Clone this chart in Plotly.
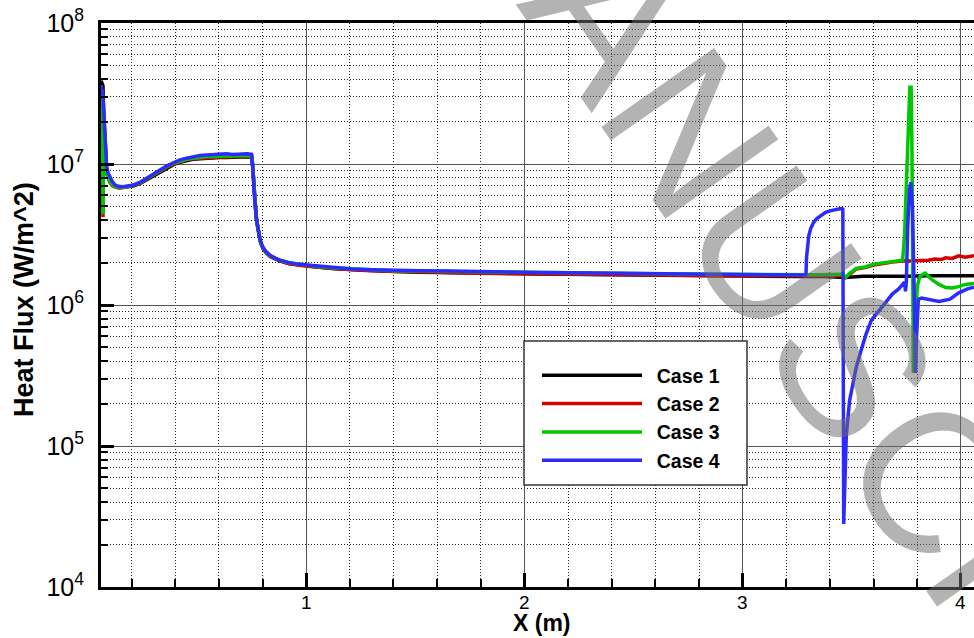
import plotly.graph_objects as go

# ---------------- data ----------------
# shared stations along the wall for the leading part of the profile (m)
x_front = [
    0.060, 0.062, 0.064, 0.066, 0.069, 0.072, 0.076, 0.080, 0.086, 0.093,
    0.101, 0.112, 0.124, 0.140, 0.160, 0.183, 0.210, 0.238, 0.268, 0.298,
    0.330, 0.362, 0.392, 0.422, 0.452, 0.481, 0.514, 0.546, 0.575, 0.605,
    0.635, 0.665, 0.700, 0.730, 0.750, 0.754, 0.757, 0.762, 0.766, 0.771,
    0.776, 0.782, 0.789, 0.796, 0.803, 0.815, 0.835, 0.858, 0.881, 0.920,
    0.959, 1.005, 1.06, 1.13, 1.21, 1.30, 1.40, 1.52, 1.65, 1.78,
    1.92, 2.06, 2.20, 2.35, 2.50, 2.65, 2.80, 2.95, 3.10, 3.25,
]

# heat flux (W/m^2) on the leading part
q1_front = [
    3.9e7, 3.85e7, 3.8e7, 3.75e7, 3.6e7, 2.4e7, 1.7e7, 1.2e7, 9.0e6, 8.0e6,
    7.5e6, 7.1e6, 6.9e6, 6.8e6, 6.8e6, 6.85e6, 7.0e6, 7.25e6, 7.7e6, 8.2e6,
    8.8e6, 9.4e6, 9.9e6, 1.03e7, 1.06e7, 1.08e7, 1.09e7, 1.10e7, 1.10e7, 1.11e7,
    1.11e7, 1.12e7, 1.12e7, 1.12e7, 1.12e7, 1.0e7, 8.4e6, 6.0e6, 4.9e6, 4.2e6,
    3.7e6, 3.25e6, 2.85e6, 2.65e6, 2.5e6, 2.36e6, 2.21e6, 2.12e6, 2.05e6, 1.97e6,
    1.93e6, 1.89e6, 1.85e6, 1.81e6, 1.78e6, 1.75e6, 1.73e6, 1.71e6, 1.69e6, 1.68e6,
    1.67e6, 1.66e6, 1.65e6, 1.64e6, 1.63e6, 1.62e6, 1.61e6, 1.60e6, 1.60e6, 1.59e6,
]
q2_front = [
    3.6e7, 3.4e7, 3.1e7, 2.7e7, 4.2e6, 1.75e7, 1.3e7, 1.02e7, 8.5e6, 7.8e6,
    7.4e6, 7.0e6, 6.85e6, 6.75e6, 6.8e6, 6.9e6, 7.05e6, 7.3e6, 7.8e6, 8.3e6,
    8.9e6, 9.5e6, 1.0e7, 1.04e7, 1.07e7, 1.09e7, 1.10e7, 1.11e7, 1.11e7, 1.12e7,
    1.12e7, 1.13e7, 1.13e7, 1.13e7, 1.13e7, 1.01e7, 8.5e6, 6.1e6, 4.95e6, 4.25e6,
    3.72e6, 3.27e6, 2.87e6, 2.66e6, 2.52e6, 2.37e6, 2.22e6, 2.13e6, 2.06e6, 1.96e6,
    1.92e6, 1.88e6, 1.85e6, 1.81e6, 1.78e6, 1.75e6, 1.73e6, 1.71e6, 1.70e6, 1.68e6,
    1.67e6, 1.66e6, 1.65e6, 1.64e6, 1.63e6, 1.63e6, 1.62e6, 1.61e6, 1.61e6, 1.61e6,
]
q3_front = [
    3.6e7, 3.3e7, 3.0e7, 2.7e7, 4.4e6, 2.1e7, 1.7e7, 1.25e7, 8.6e6, 7.9e6,
    7.5e6, 7.1e6, 6.9e6, 6.85e6, 6.85e6, 6.9e6, 7.1e6, 7.35e6, 7.85e6, 8.4e6,
    9.0e6, 9.6e6, 1.01e7, 1.05e7, 1.08e7, 1.10e7, 1.12e7, 1.13e7, 1.13e7, 1.14e7,
    1.14e7, 1.14e7, 1.15e7, 1.15e7, 1.15e7, 1.03e7, 8.6e6, 6.1e6, 4.95e6, 4.25e6,
    3.75e6, 3.3e6, 2.9e6, 2.68e6, 2.53e6, 2.38e6, 2.23e6, 2.14e6, 2.07e6, 1.99e6,
    1.95e6, 1.91e6, 1.87e6, 1.83e6, 1.80e6, 1.77e6, 1.75e6, 1.74e6, 1.73e6, 1.71e6,
    1.70e6, 1.69e6, 1.68e6, 1.67e6, 1.66e6, 1.66e6, 1.65e6, 1.65e6, 1.64e6, 1.64e6,
]
q4_front = [
    3.6e7, 3.5e7, 3.4e7, 3.3e7, 3.1e7, 2.5e7, 1.9e7, 1.35e7, 9.5e6, 8.6e6,
    8.1e6, 7.5e6, 7.1e6, 6.95e6, 6.9e6, 6.95e6, 7.1e6, 7.4e6, 7.9e6, 8.5e6,
    9.1e6, 9.7e6, 1.02e7, 1.07e7, 1.10e7, 1.13e7, 1.15e7, 1.16e7, 1.17e7, 1.17e7,
    1.18e7, 1.17e7, 1.18e7, 1.18e7, 1.17e7, 1.05e7, 8.8e6, 6.2e6, 5.0e6, 4.3e6,
    3.8e6, 3.3e6, 2.9e6, 2.7e6, 2.55e6, 2.4e6, 2.25e6, 2.15e6, 2.08e6, 2.0e6,
    1.95e6, 1.92e6, 1.88e6, 1.84e6, 1.80e6, 1.78e6, 1.76e6, 1.75e6, 1.74e6, 1.72e6,
    1.71e6, 1.70e6, 1.69e6, 1.68e6, 1.67e6, 1.66e6, 1.65e6, 1.65e6, 1.64e6, 1.63e6,
]

# downstream part, different for each case
x1_tail = [3.35, 3.45, 3.47, 3.55, 3.65, 3.75, 3.85, 3.95, 4.06]
q1_tail = [1.60e6, 1.59e6, 1.57e6, 1.60e6, 1.59e6, 1.60e6, 1.61e6, 1.60e6, 1.61e6]

x2_tail = [3.35, 3.45, 3.462, 3.47, 3.49, 3.52, 3.56, 3.60, 3.63, 3.67, 3.70,
           3.735, 3.77, 3.81, 3.85, 3.88, 3.91, 3.93, 3.96, 3.99, 4.02, 4.06]
q2_tail = [1.62e6, 1.62e6, 1.61e6, 1.56e6, 1.66e6, 1.80e6, 1.84e6, 1.92e6, 1.95e6,
           1.98e6, 2.03e6, 2.06e6, 2.05e6, 2.07e6, 2.08e6, 2.12e6, 2.10e6, 2.16e6,
           2.14e6, 2.23e6, 2.18e6, 2.24e6]

x3_tail = [3.35, 3.45, 3.462, 3.47, 3.49, 3.52, 3.56, 3.60, 3.63, 3.67, 3.70,
           3.733, 3.742, 3.750, 3.758, 3.766, 3.772, 3.776, 3.782, 3.790, 3.800,
           3.812, 3.836, 3.87, 3.90, 3.93, 3.96, 3.99, 4.02, 4.06]
q3_tail = [1.64e6, 1.65e6, 1.63e6, 1.56e6, 1.68e6, 1.82e6, 1.86e6, 1.95e6, 1.98e6,
           2.02e6, 2.05e6, 2.08e6, 3.2e6, 7.5e6, 1.6e7, 3.5e7, 3.5e7, 1.2e7, 3.3e5,
           7.0e5, 1.35e6, 1.6e6, 1.68e6, 1.5e6, 1.4e6, 1.33e6, 1.32e6, 1.35e6,
           1.40e6, 1.42e6]

x4_tail = [3.29, 3.293, 3.297, 3.303, 3.312, 3.325, 3.34, 3.36, 3.38, 3.40, 3.42,
           3.44, 3.456, 3.459, 3.463, 3.468, 3.475, 3.49, 3.52, 3.545, 3.565, 3.59,
           3.626, 3.66, 3.687, 3.715, 3.733, 3.742, 3.746, 3.750, 3.756, 3.764,
           3.771, 3.778, 3.785, 3.792, 3.797, 3.805, 3.82, 3.855, 3.90, 3.95, 3.99,
           4.03, 4.06]
q4_tail = [1.63e6, 2.2e6, 2.7e6, 3.1e6, 3.5e6, 3.85e6, 4.1e6, 4.35e6, 4.55e6,
           4.65e6, 4.75e6, 4.8e6, 4.85e6, 4.8e6, 2.8e4, 6.0e4, 1.2e5, 2.1e5, 3.6e5,
           4.9e5, 6.2e5, 7.8e5, 9.2e5, 1.08e6, 1.2e6, 1.3e6, 1.4e6, 1.45e6, 1.25e6,
           1.45e6, 3.5e6, 6.5e6, 7.4e6, 5.0e6, 1.5e6, 3.3e5, 6.0e5, 1.1e6, 1.12e6,
           1.10e6, 1.06e6, 1.1e6, 1.22e6, 1.3e6, 1.34e6]

case_names = ["Case 1", "Case 2", "Case 3", "Case 4"]
case_colors = ["#000000", "#d40000", "#00c800", "#2b2bff"]

# labelled stations on the X axis
x_tick_vals = [1, 2, 3, 4]
x_tick_text = ["1", "2", "3", "4"]

series = [
    (x_front + x1_tail, q1_front + q1_tail),
    (x_front + x2_tail, q2_front + q2_tail),
    (x_front + x3_tail, q3_front + q3_tail),
    (x_front + x4_tail, q4_front + q4_tail),
]

# ---------------- figure ----------------
FONT = "Liberation Sans, Arial, sans-serif"

fig = go.Figure()
for (xs, qs), name, col in zip(series, case_names, case_colors):
    fig.add_trace(go.Scatter(
        x=xs, y=qs, mode="lines", name="\u2002" + name,
        line=dict(color=col, width=3.5),
    ))

W, H = 974, 638
ML, MR, MT, MB = 101, 0, 23, 51
PW, PH = W - ML - MR, H - MT - MB


def px_to_paper(px, py):
    return (px - ML) / PW, (H - MB - py) / PH


lx0, ly0 = px_to_paper(524, 485)
lx1, ly1 = px_to_paper(747, 341)
leg_x, leg_y = px_to_paper(537, 356)
wm_x, wm_y = px_to_paper(528, -100)

annotations = [
    dict(text="<b>Heat Flux (W/m^2)</b>", xref="paper", yref="paper",
         x=0, y=0.509, xshift=-77, xanchor="center", yanchor="middle",
         textangle=-90, showarrow=False,
         font=dict(family=FONT, size=27, color="black")),
    dict(text="<b>X (m)</b>", xref="x", yref="paper",
         x=2.081, y=0, yshift=-36, xanchor="center", yanchor="middle",
         showarrow=False, font=dict(family=FONT, size=23, color="black")),
    dict(text="ACCEPTED MANUSCRIPT", xref="paper", yref="paper",
         x=wm_x, y=wm_y, xanchor="center", yanchor="middle",
         textangle=55, showarrow=False,
         font=dict(family=FONT, size=200, color="rgba(110,110,110,0.52)")),
]
# x tick labels sit close under the frame
for xv, xt in zip(x_tick_vals, x_tick_text):
    annotations.append(dict(
        text=xt, xref="x", yref="paper", x=xv, y=0, yshift=-15,
        xanchor="center", yanchor="middle", showarrow=False,
        font=dict(family=FONT, size=19, color="black")))

fig.update_layout(
    width=W, height=H,
    margin=dict(l=ML, r=MR, t=MT, b=MB, autoexpand=False),
    paper_bgcolor="white", plot_bgcolor="white",
    font=dict(family=FONT, color="black"),
    showlegend=True,
    legend=dict(
        x=leg_x, y=leg_y, xanchor="left", yanchor="top",
        bgcolor="rgba(0,0,0,0)", borderwidth=0,
        font=dict(family=FONT, size=19.5, color="black", weight="bold"),
        itemwidth=100, tracegroupgap=0,
    ),
    xaxis=dict(
        range=[0.06, 4.06], tickvals=x_tick_vals, showticklabels=False,
        ticks="inside", ticklen=14, tickwidth=3, tickcolor="black",
        showline=True, linewidth=3, linecolor="black", mirror=True,
        showgrid=True, gridcolor="#555555", gridwidth=1.3, zeroline=False,
        minor=dict(dtick=0.2, tick0=0, ticks="inside", ticklen=8, tickwidth=1.5,
                   tickcolor="black", showgrid=True, gridcolor="#222222",
                   griddash="1px,2px", gridwidth=1),
    ),
    yaxis=dict(
        type="log", range=[4, 8], dtick=1, exponentformat="power",
        ticks="inside", ticklen=13, tickwidth=3, tickcolor="black",
        showline=True, linewidth=3, linecolor="black", mirror=False,
        showgrid=True, gridcolor="#555555", gridwidth=1.3, zeroline=False,
        tickfont=dict(family=FONT, size=20, color="black"),
        ticklabelstandoff=10,
        minor=dict(dtick="D1", ticks="inside", ticklen=7, tickwidth=1.5,
                   tickcolor="black", showgrid=True, gridcolor="#222222",
                   griddash="1px,2px", gridwidth=1),
    ),
    shapes=[
        dict(type="rect", xref="paper", yref="paper",
             x0=lx0, y0=ly0, x1=lx1, y1=ly1,
             line=dict(color="#333333", width=1.5), fillcolor="white",
             layer="above"),
    ],
    annotations=annotations,
)

fig.write_html("out.html")
